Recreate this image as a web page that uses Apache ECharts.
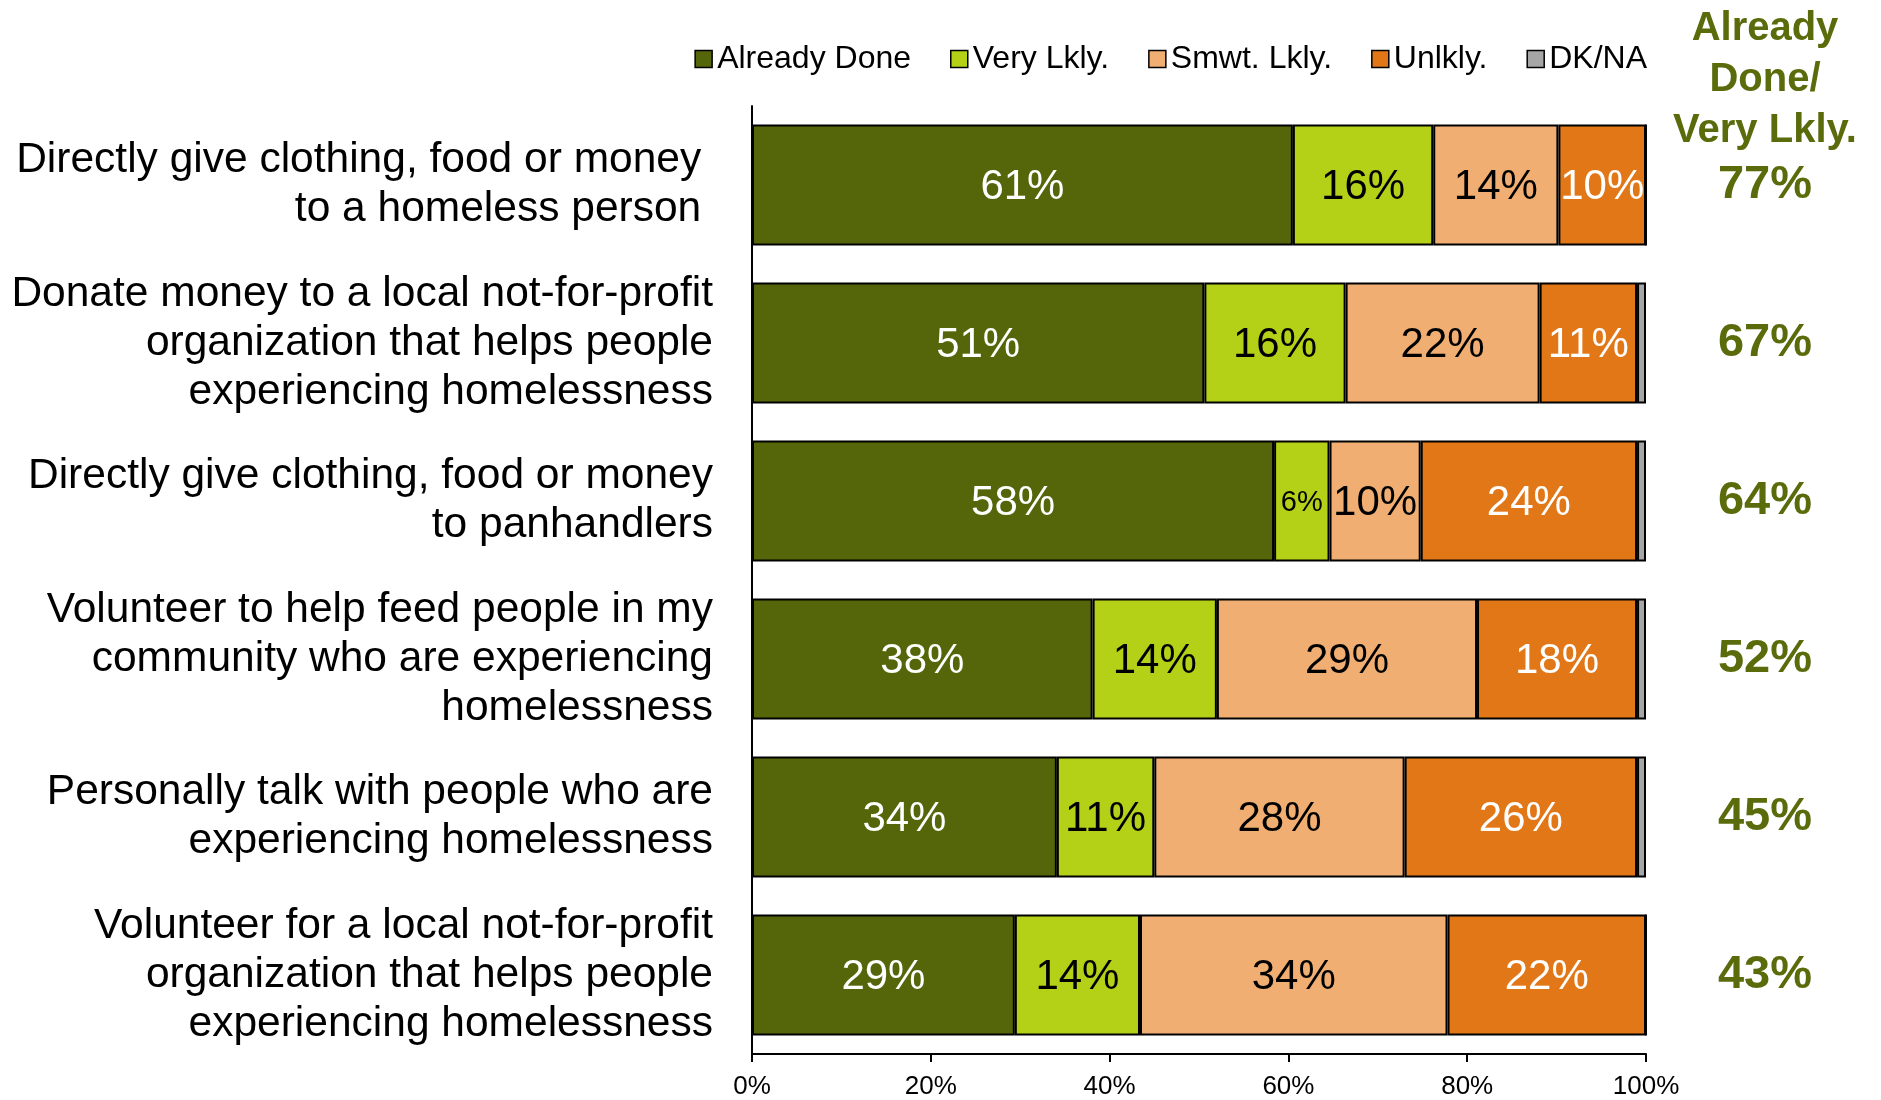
<!DOCTYPE html>
<html>
<head>
<meta charset="utf-8">
<title>Homelessness actions</title>
<script src="https://cdn.jsdelivr.net/npm/echarts@6/dist/echarts.min.js"></script>
<style>
  html, body { margin: 0; padding: 0; background: #fff; }
  #chart { width: 1881px; height: 1100px; }
</style>
</head>
<body>
<div id="chart"></div>
<script>
// categories (top to bottom)
const categories = [
  'Directly give clothing, food or money \nto a homeless person ',
  'Donate money to a local not-for-profit\norganization that helps people\nexperiencing homelessness',
  'Directly give clothing, food or money\nto panhandlers',
  'Volunteer to help feed people in my\ncommunity who are experiencing\nhomelessness',
  'Personally talk with people who are\nexperiencing homelessness',
  'Volunteer for a local not-for-profit\norganization that helps people\nexperiencing homelessness',
]
const legendNames = ['Already Done', 'Very Lkly.', 'Smwt. Lkly.', 'Unlkly.', 'DK/NA']
// series values (%)
const alreadyDone = [60.5, 50.6, 58.4, 38.1, 34.1, 29.4]
const veryLikely = [15.7, 15.8, 6.2, 13.9, 10.9, 14.0]
const smwtLikely = [14.0, 21.7, 10.2, 29.1, 28.0, 34.4]
const unlikely = [9.8, 10.9, 24.2, 17.9, 26.0, 22.2]
const dkna = [0, 1.0, 1.0, 1.0, 1.0, 0]
// right column: Already Done / Very Lkly.
const totals = [77, 67, 64, 52, 45, 43]
const xTicks = [0, 20, 40, 60, 80, 100]

const FONT = '"Liberation Sans", Arial, sans-serif'
const OLIVE = '#5A6B0C'

const chart = echarts.init(document.getElementById('chart'))

function makeSeries(name, data, color, labelColor) {
  return {
    name,
    type: 'bar',
    stack: 'total',
    barWidth: 121,
    itemStyle: {
      color,
      borderColor: '#000',
      borderWidth: 2,
    },
    label: {
      show: labelColor !== null,
      position: 'inside',
      color: labelColor || '#000',
      fontFamily: FONT,
      fontSize: 42,
      offset: [0, 2],
      formatter: (p) => Math.round(p.value) + '%',
    },
    emphasis: { disabled: true },
    // narrow segments get a smaller label
    data: data.map((v) => (v < 8 ? { value: v, label: { fontSize: 29 } } : v)),
  }
}

const option = {
  animation: false,
  textStyle: { fontFamily: FONT },
  legend: {
    data: legendNames,
    right: 229,
    top: 38,
    icon: 'rect',
    itemWidth: 17,
    itemHeight: 17,
    itemGap: 39,
    selectedMode: false,
    itemStyle: { borderColor: '#000', borderWidth: 1.5 },
    textStyle: { color: '#000', fontSize: 32, fontFamily: FONT },
  },
  grid: {
    left: 752,
    right: 235,
    top: 106,
    bottom: 44,
  },
  xAxis: {
    type: 'value',
    min: 0,
    max: 100,
    interval: 20,
    splitLine: { show: false },
    axisLine: { show: true, lineStyle: { color: '#000', width: 2 } },
    axisTick: { show: true, length: 8, lineStyle: { color: '#000', width: 2 } },
    axisLabel: {
      color: '#000',
      fontSize: 26,
      fontFamily: FONT,
      margin: 20,
      formatter: (v) => (xTicks.includes(v) ? v + '%' : ''),
    },
  },
  yAxis: [
    {
      type: 'category',
      data: categories,
      inverse: true,
      axisLine: { show: true, lineStyle: { color: '#000', width: 2 } },
      axisTick: { show: false },
      axisLabel: {
        color: '#000',
        fontSize: 42.5,
        lineHeight: 49,
        fontFamily: FONT,
        margin: 39,
        align: 'right',
      },
    },
    {
      type: 'category',
      data: totals.map((v) => v + '%'),
      inverse: true,
      position: 'right',
      axisLine: { show: false },
      axisTick: { show: false },
      axisLabel: {
        color: OLIVE,
        fontSize: 47,
        fontWeight: 'bold',
        fontFamily: FONT,
        align: 'center',
        margin: 119,
      },
    },
  ],
  graphic: [
    {
      // header of the right column
      type: 'text',
      x: 1765,
      y: 3,
      style: {
        text: 'Already\nDone/\nVery Lkly.',
        align: 'center',
        textAlign: 'center',
        verticalAlign: 'top',
        fill: OLIVE,
        font: 'bold 40px ' + FONT,
        lineHeight: 51,
      },
    },
  ],
  series: [
    makeSeries(legendNames[0], alreadyDone, '#556509', '#fff'),
    makeSeries(legendNames[1], veryLikely, '#B4D017', '#000'),
    makeSeries(legendNames[2], smwtLikely, '#F0AE72', '#000'),
    makeSeries(legendNames[3], unlikely, '#E27718', '#fff'),
    makeSeries(legendNames[4], dkna, '#A6A6A6', null),
  ],
}

chart.setOption(option)
</script>
</body>
</html>
